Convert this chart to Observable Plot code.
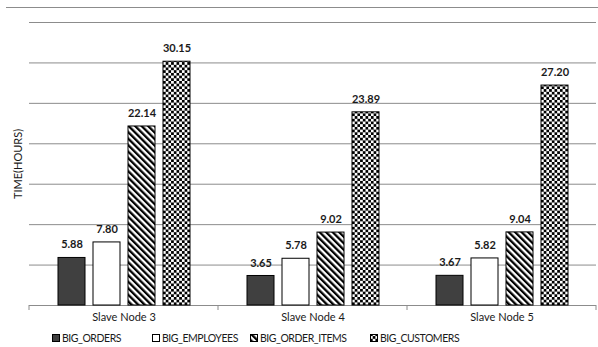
<!DOCTYPE html>
<html>
<head>
<meta charset="utf-8">
<script src="https://cdn.jsdelivr.net/npm/d3@7"></script>
<script src="https://cdn.jsdelivr.net/npm/@observablehq/plot@0.6"></script>
<style>
  html, body { margin: 0; padding: 0; background: #fff; }
  #chart { position: relative; width: 598px; height: 347px; font-family: Lato, "Open Sans", sans-serif; color: #1a1a1a; }
  #topline { position: absolute; left: 6px; right: 0; top: 7px; border-top: 1px solid #8c8c8c; }
  #chart svg { display: block; }
</style>
</head>
<body>
<svg width="0" height="0" style="position:absolute">
  <defs>
    <pattern id="hatch" patternUnits="userSpaceOnUse" width="4.6" height="4.6" patternTransform="rotate(-45)">
      <rect width="4.6" height="4.6" fill="#fff"/>
      <rect width="2.3" height="4.6" fill="#000"/>
    </pattern>
    <pattern id="checker" patternUnits="userSpaceOnUse" width="5.4" height="5.4">
      <rect width="5.4" height="5.4" fill="#fff"/>
      <rect width="2.7" height="2.7" fill="#000"/>
      <rect x="2.7" y="2.7" width="2.7" height="2.7" fill="#000"/>
    </pattern>
  </defs>
</svg>
<div id="chart"><div id="topline"></div></div>
<script>
// Nodes on the x axis and the tables loaded on each
const groups = ["Slave Node 3", "Slave Node 4", "Slave Node 5"];
const tables = ["BIG_ORDERS", "BIG_EMPLOYEES", "BIG_ORDER_ITEMS", "BIG_CUSTOMERS"];

// Load time in hours, one value per table, per node
const node3 = [5.88, 7.80, 22.14, 30.15];
const node4 = [3.65, 5.78, 9.02, 23.89];
const node5 = [3.67, 5.82, 9.04, 27.20];

// Gridline values on the time axis
const yTicks = [0, 5, 10, 15, 20, 25, 30, 35];

// Fill for each table: solid, blank, hatched, checkered
const fills = ["#404040", "#ffffff", "url(#hatch)", "url(#checker)"];

const series = [node3, node4, node5];
const data = groups.flatMap((g, i) =>
  tables.map((t, j) => ({group: g, table: t, value: series[i][j]}))
);

const plot = Plot.plot({
  width: 598,
  height: 328,
  marginTop: 22,
  marginLeft: 28,
  marginRight: 2,
  marginBottom: 23,
  style: {fontFamily: "Lato, 'Open Sans', sans-serif", fontSize: "11px", color: "#1a1a1a", background: "transparent"},
  fx: {domain: groups, padding: 0, label: null},
  x: {domain: tables, paddingInner: 0.23, paddingOuter: 0.8, axis: null},
  y: {domain: [0, 35], axis: null},
  color: {type: "ordinal", domain: tables, range: fills},
  marks: [
    Plot.gridY(yTicks, {stroke: "#8c8c8c", strokeOpacity: 1, strokeWidth: 1}),
    Plot.axisY({ticks: [], tickSize: 0, label: "TIME(HOURS)", labelAnchor: "center", labelArrow: "none", labelOffset: 15, fontSize: 11}),
    Plot.axisFx({anchor: "bottom", tickSize: 0, tickPadding: 8, label: null, fontSize: 11}),
    Plot.barY(data, {fx: "group", x: "table", y: "value", fill: "table", stroke: "#000", strokeWidth: 1}),
    Plot.text(data, {fx: "group", x: "table", y: "value", text: d => d.value.toFixed(2), dy: -13, fontWeight: "bold", fontSize: 11, fill: "#1a1a1a"})
  ]
});

// Boundary ticks between node groups on the baseline
const fx = plot.scale("fx");
const y = plot.scale("y");
const bw = fx.bandwidth;
const edges = groups.map(g => fx.apply(g)).concat([fx.apply(groups[groups.length - 1]) + bw]);
const y0 = y.apply(0);
d3.select(plot).append("g")
  .selectAll("line").data(edges).join("line")
  .attr("x1", d => d).attr("x2", d => d)
  .attr("y1", y0).attr("y2", y0 + 5)
  .attr("stroke", "#8c8c8c");

document.getElementById("chart").appendChild(plot);

// Legend row under the chart
const legendX = [52, 152, 250, 370];
const legend = d3.create("svg").attr("width", 598).attr("height", 19)
  .style("font-family", "Lato, 'Open Sans', sans-serif").style("font-size", "10.5px")
  .style("letter-spacing", "-0.45px");
const item = legend.selectAll("g").data(tables).join("g")
  .attr("transform", (d, i) => `translate(${legendX[i]},0)`);
item.append("rect").attr("x", 0.5).attr("y", 6.5).attr("width", 7).attr("height", 7)
  .attr("fill", (d, i) => fills[i]).attr("stroke", "#000");
item.append("text").attr("x", 10).attr("y", 10).attr("dy", "0.35em")
  .attr("fill", "#1a1a1a").text(d => d);
document.getElementById("chart").appendChild(legend.node());
</script>
</body>
</html>
